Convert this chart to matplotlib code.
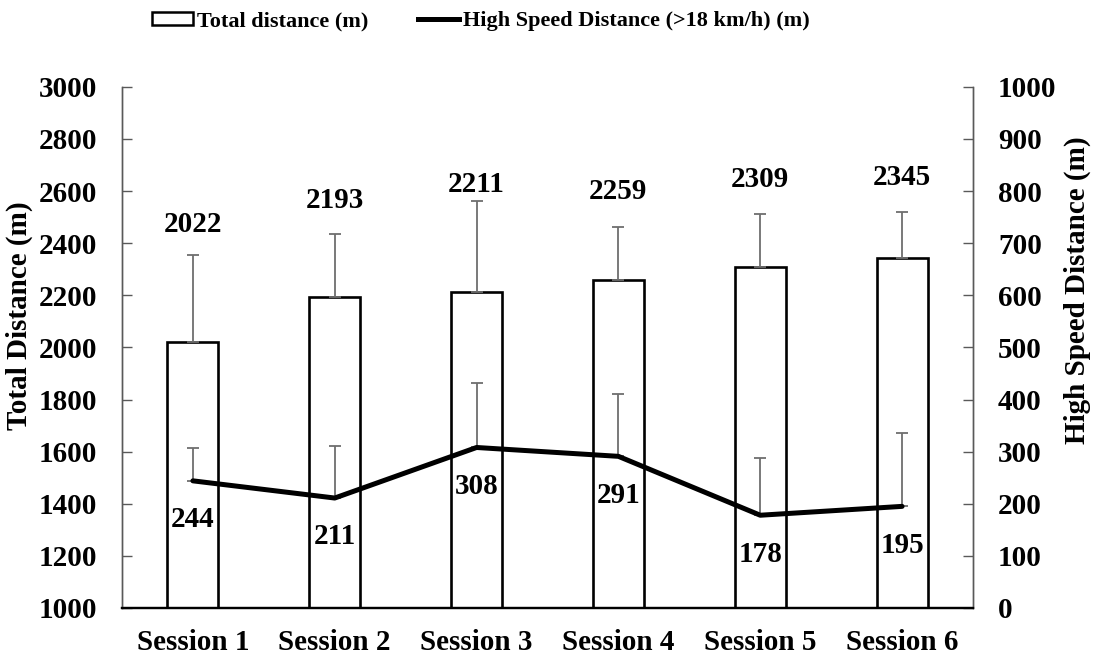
import matplotlib
matplotlib.use("Agg")
import matplotlib.pyplot as plt
import numpy as np
from matplotlib.patches import Patch
from matplotlib.lines import Line2D

sessions = ["Session 1", "Session 2", "Session 3", "Session 4", "Session 5", "Session 6"]
total_mean = [2022, 2193, 2211, 2259, 2309, 2345]
total_sd = [333, 243, 351, 205, 204, 173]
hsd_mean = [244, 211, 308, 291, 178, 195]
hsd_sd = [63, 100, 124, 119, 110, 141]
left_ticks = [1000, 1200, 1400, 1600, 1800, 2000, 2200, 2400, 2600, 2800, 3000]
right_ticks = [0, 100, 200, 300, 400, 500, 600, 700, 800, 900, 1000]

plt.rcParams['font.family'] = ['Liberation Serif', 'DejaVu Serif']
plt.rcParams['font.weight'] = 'bold'

fig = plt.figure(figsize=(10.93, 6.58), dpi=100)
ax = fig.add_axes([0.1116, 0.076, 0.7786, 0.792])
ax2 = ax.twinx()

x = np.arange(len(sessions))
err_col = '#6e6e6e'
fs = 21

ax.bar(x, total_mean, width=0.36, color='white', edgecolor='black', linewidth=1.9, zorder=2)
ax.errorbar(x, total_mean, yerr=[np.zeros(len(x)), total_sd], fmt='none',
            ecolor=err_col, elinewidth=1.3, capsize=4, capthick=1.3, zorder=3)
bar_label_offsets = [22, 24, 12, 25, 25, 25]
for xi, m, s, off in zip(x, total_mean, total_sd, bar_label_offsets):
    ax.annotate(f"{m}", (xi, m + s), xytext=(0, off), textcoords='offset points',
                ha='center', va='center', fontsize=fs, fontweight='bold')

ax.set_ylim(1000, 3000)
ax.set_xlim(-0.5, 5.5)
ax.set_yticks(left_ticks)
ax.set_xticks(x)
ax.set_xticklabels(sessions)
ax.tick_params(axis='x', length=0, pad=15, labelsize=fs)
ax.tick_params(axis='y', direction='in', length=7, width=1, color='#595959', pad=18, labelsize=fs)
ax.set_ylabel("Total Distance (m)", fontsize=fs, fontweight='bold')
ax.yaxis.set_label_coords(-0.104, 0.56)

ax2.errorbar(x, hsd_mean, yerr=[np.zeros(len(x)), hsd_sd], fmt='none',
             ecolor=err_col, elinewidth=1.3, capsize=4, capthick=1.3, zorder=3)
ax2.plot(x, hsd_mean, color='black', linewidth=3.6, zorder=4, solid_capstyle='round')
for xi, m in zip(x, hsd_mean):
    ax2.annotate(f"{m}", (xi, m), xytext=(0, -28), textcoords='offset points',
                 ha='center', va='center', fontsize=fs, fontweight='bold')
ax2.set_ylim(0, 1000)
ax2.set_yticks(right_ticks)
ax2.tick_params(axis='y', direction='in', length=7, width=1, color='#595959', pad=18, labelsize=fs)
ax2.set_ylabel("High Speed Distance (m)", fontsize=fs, fontweight='bold')
ax2.yaxis.set_label_coords(1.106, 0.61)

for a in (ax, ax2):
    a.spines['top'].set_visible(False)
    a.spines['left'].set_color('#595959')
    a.spines['right'].set_color('#595959')
    a.spines['left'].set_linewidth(1.0)
    a.spines['right'].set_linewidth(1.0)
    a.spines['bottom'].set_color('black')
    a.spines['bottom'].set_linewidth(1.6)
for lab in ax.get_yticklabels() + ax2.get_yticklabels() + ax.get_xticklabels():
    lab.set_fontweight('bold')

handles = [Patch(facecolor='white', edgecolor='black', linewidth=1.8),
           Line2D([0], [0], color='black', linewidth=3.6)]
fig.legend(handles, ["Total distance (m)", "High Speed Distance (>18 km/h) (m)"],
           loc='center', bbox_to_anchor=(0.44, 0.968), ncol=2, frameon=False,
           prop={'family': 'Liberation Serif', 'weight': 'bold', 'size': 16},
           handlelength=1.85, handleheight=0.55, handletextpad=0.2, columnspacing=2.2)

fig.savefig("out.png", dpi=100)
